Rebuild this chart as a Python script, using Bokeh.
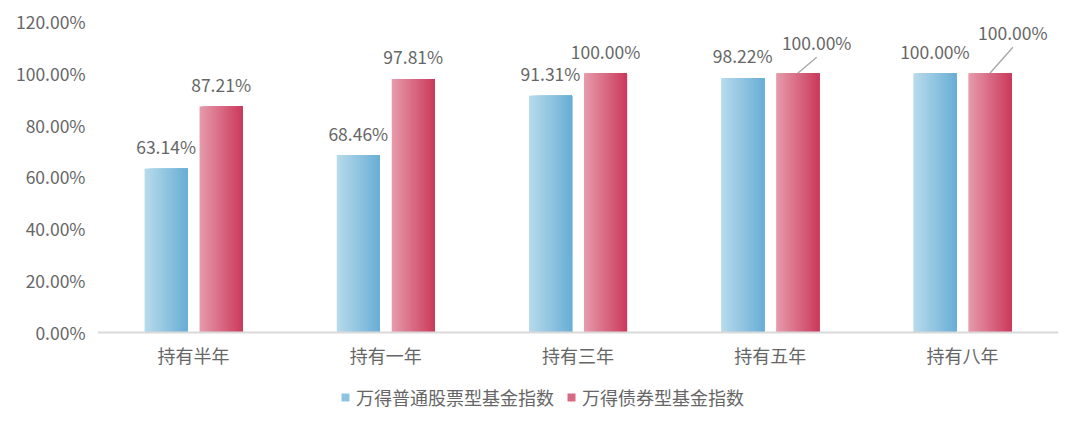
from bokeh.plotting import figure
from bokeh.models import ColumnDataSource, Legend, LegendItem, PrintfTickFormatter, Range1d, Span
from bokeh.transform import dodge
from bokeh.embed import file_html
from bokeh.resources import INLINE

categories = ["持有半年", "持有一年", "持有三年", "持有五年", "持有八年"]
stock_name = "万得普通股票型基金指数"
bond_name = "万得债券型基金指数"
stock_values = [63.14, 68.46, 91.31, 98.22, 100.00]
bond_values = [87.21, 97.81, 100.00, 100.00, 100.00]

# label nudges (screen px) for the crowded 100% labels of the bond series
bond_label_dx = [0, 0, 0, 19, 23]
bond_label_dy = [-22, -22, -22, -31, -41]

FONT = "Noto Sans CJK SC"
GRAY = "#666666"

# the frame runs down to the bottom of the canvas so the legend below the
# bars stays inside it; the category axis is drawn by hand at y = 0
p = figure(
    x_range=categories,
    y_range=Range1d(-34.75, 125),
    width=1072, height=422,
    output_backend="svg",
    toolbar_location=None,
    x_axis_location=None,
    min_border_left=97, min_border_right=14,
    min_border_top=8, min_border_bottom=0,
)


def lerp(c0, c1, t):
    a = [int(c0[i:i + 2], 16) for i in (1, 3, 5)]
    b = [int(c1[i:i + 2], 16) for i in (1, 3, 5)]
    return "#%02x%02x%02x" % tuple(round(a[j] + (b[j] - a[j]) * t) for j in range(3))


bar_w = 0.224
bar_off = 0.143
n_strips = 30
strip_w = bar_w / n_strips

series = [
    (stock_values, -bar_off, "#b7daec", "#6aafd5"),
    (bond_values, bar_off, "#e69aab", "#cb3b5c"),
]

# horizontal gradient: each strip runs to the bar's right edge, drawn left to right
legend_renderers = []
for vals, off, c0, c1 in series:
    src = ColumnDataSource(dict(cat=categories, top=vals))
    mid = None
    for k in range(n_strips):
        t = k / (n_strips - 1)
        w = bar_w - k * strip_w
        x_off = off + bar_w / 2 - w / 2
        r = p.vbar(x=dodge("cat", x_off, range=p.x_range), top="top", bottom=0, source=src,
                   width=w, fill_color=lerp(c0, c1, t), line_color=None)
        if k == n_strips // 2:
            mid = r
    legend_renderers.append(mid)

# category axis
p.add_layout(Span(location=0, dimension="width", line_color="#d9d9d9", line_width=2))
cat_src = ColumnDataSource(dict(cat=categories, y=[0] * len(categories)))
p.text(x="cat", y="y", text="cat", source=cat_src, y_offset=23,
       text_align="center", text_baseline="middle",
       text_font={"value": FONT}, text_font_size="18px", text_color=GRAY)

# value labels
stock_src = ColumnDataSource(dict(cat=categories, v=stock_values,
                                  lab=["%.2f%%" % v for v in stock_values]))
p.text(x=dodge("cat", -bar_off, range=p.x_range), y="v", text="lab", source=stock_src,
       text_align="center", text_baseline="middle", y_offset=-22,
       text_font={"value": FONT}, text_font_size="17.5px", text_color=GRAY)

bond_src = ColumnDataSource(dict(cat=categories, v=bond_values,
                                 lab=["%.2f%%" % v for v in bond_values],
                                 dx=bond_label_dx, dy=bond_label_dy))
p.text(x=dodge("cat", bar_off, range=p.x_range), y="v", text="lab", source=bond_src,
       x_offset="dx", y_offset="dy",
       text_align="center", text_baseline="middle",
       text_font={"value": FONT}, text_font_size="17.5px", text_color=GRAY)

# leader lines for nudged labels
px_per_cat = 961 / len(categories)
px_per_y = 259 / 100
for j, dx in enumerate(bond_label_dx):
    if dx == 0:
        continue
    seg = ColumnDataSource(dict(cat=[categories[j]], y0=[bond_values[j]],
                                y1=[bond_values[j] + (-bond_label_dy[j] - 15) / px_per_y]))
    p.segment(x0=dodge("cat", bar_off, range=p.x_range), y0="y0",
              x1=dodge("cat", bar_off + dx / px_per_cat, range=p.x_range), y1="y1",
              source=seg, line_color="#a6a6a6", line_width=1.3)

# value axis
p.yaxis.formatter = PrintfTickFormatter(format="%.2f%%")
p.yaxis.ticker = [0, 20, 40, 60, 80, 100, 120]
p.yaxis.axis_line_color = None
p.yaxis.major_tick_line_color = None
p.yaxis.major_tick_out = 0
p.yaxis.minor_tick_line_color = None
p.yaxis.major_label_standoff = 12
p.yaxis.major_label_text_font = FONT
p.yaxis.major_label_text_font_size = "17.5px"
p.yaxis.major_label_text_color = GRAY

p.xgrid.grid_line_color = None
p.ygrid.grid_line_color = None
p.outline_line_color = None
p.x_range.range_padding = 0

legend = Legend(
    items=[LegendItem(label=stock_name, renderers=[legend_renderers[0]]),
           LegendItem(label=bond_name, renderers=[legend_renderers[1]])],
    orientation="horizontal",
    location=(243, 12),
    glyph_width=10, glyph_height=10,
    label_text_font=FONT, label_text_font_size="18px", label_text_color=GRAY,
    label_standoff=6, spacing=12, padding=0, margin=0,
    border_line_color=None, background_fill_alpha=0,
)
p.add_layout(legend, "center")

open("out.html", "w").write(file_html(p, INLINE))
